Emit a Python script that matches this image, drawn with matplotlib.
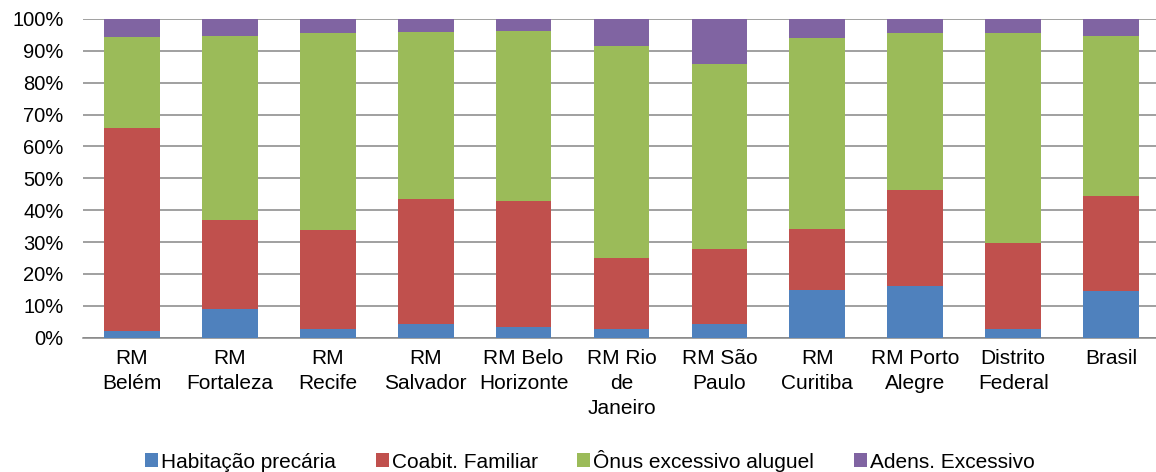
import matplotlib
matplotlib.use("Agg")
import matplotlib.pyplot as plt
import numpy as np

plt.rcParams['font.family'] = ['Liberation Sans', 'DejaVu Sans']

categories = ["RM\nBelém", "RM\nFortaleza", "RM\nRecife", "RM\nSalvador",
              "RM Belo\nHorizonte", "RM Rio\nde\nJaneiro", "RM São\nPaulo",
              "RM\nCuritiba", "RM Porto\nAlegre", "Distrito\nFederal", "Brasil"]

habitacao_precaria = [2.0, 8.9, 2.6, 4.2, 3.5, 2.6, 4.4, 15.0, 16.2, 2.6, 14.7]
coabit_familiar = [63.9, 28.1, 31.3, 39.2, 39.4, 22.4, 23.4, 19.0, 30.0, 27.2, 29.9]
onus_aluguel = [28.5, 57.8, 61.7, 52.5, 53.3, 66.5, 58.2, 60.1, 49.3, 65.8, 50.2]
adens_excessivo = [5.6, 5.2, 4.4, 4.1, 3.8, 8.5, 14.0, 5.9, 4.5, 4.4, 5.2]

series = [
    ("Habitação precária", habitacao_precaria, "#4F81BD"),
    ("Coabit. Familiar", coabit_familiar, "#C0504D"),
    ("Ônus excessivo aluguel", onus_aluguel, "#9BBB59"),
    ("Adens. Excessivo", adens_excessivo, "#8064A2"),
]

fig = plt.figure(figsize=(11.56, 4.72), dpi=100)
ax = fig.add_axes([83 / 1156, (472 - 337.7) / 472, (1160 - 83) / 1156, (337.7 - 19) / 472])

x = np.arange(len(categories))
bottom = np.zeros(len(categories))
for name, vals, color in series:
    vals = np.array(vals, dtype=float)
    ax.bar(x, vals, bottom=bottom, width=0.57, color=color, label=name, zorder=3)
    bottom += vals

ax.set_xlim(-0.5, len(categories) - 0.5)
ax.set_ylim(0, 100)
ax.set_yticks(np.arange(0, 101, 10))
ax.set_yticklabels([f"{v}%" for v in range(0, 101, 10)])
ax.set_xticks(x)
ax.set_xticklabels(categories, linespacing=1.42)

ax.grid(axis='y', color='#868686', linewidth=1.1, zorder=0)
for s in ['top', 'right', 'left']:
    ax.spines[s].set_visible(False)
ax.spines['bottom'].set_color('#868686')
ax.spines['bottom'].set_linewidth(1.1)
ax.tick_params(axis='y', length=0, pad=14, labelsize=14.5)
ax.tick_params(axis='x', length=0, pad=8, labelsize=15)

fig.legend(loc='center', bbox_to_anchor=(590 / 1156, (472 - 460.5) / 472), ncol=4,
           frameon=False, fontsize=15, handlelength=0.62, handleheight=0.62,
           handletextpad=0.15, columnspacing=1.9, borderpad=0)

fig.savefig("out.png", dpi=100)
